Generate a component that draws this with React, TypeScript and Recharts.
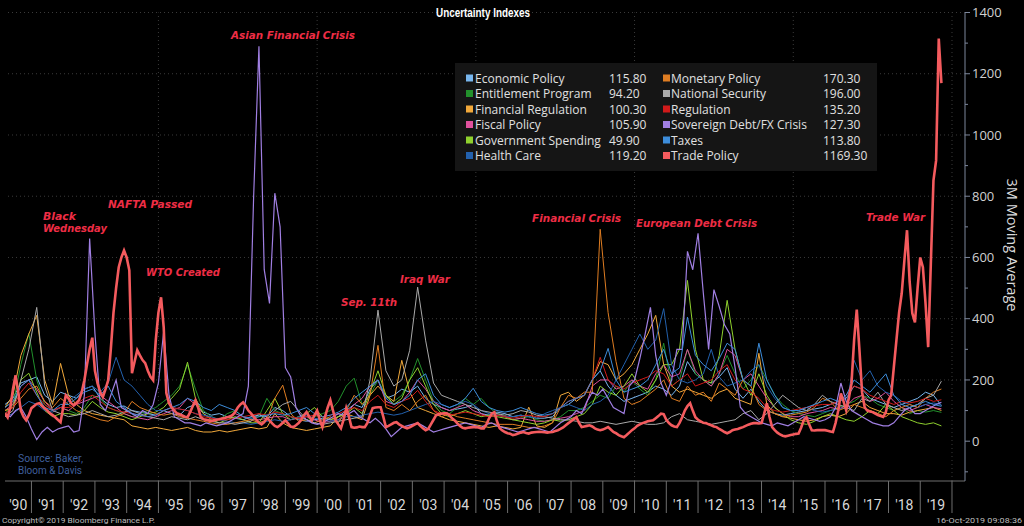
import React from 'react';
import { LineChart, Line, XAxis, YAxis, ReferenceLine } from 'recharts';

// first 3M average point is Mar 1990, last is Sep 2019
const T0 = 1990 + 2 / 12;
const X_MIN = T0;
const X_MAX = 2020.41;
const Y_MIN = -130;
const Y_MAX = 1400;

const W = 1024;
const H = 526;
const PLOT_LEFT = 5;
const PLOT_RIGHT = 965;
const PX_PER_YEAR = (PLOT_RIGHT - PLOT_LEFT) / (X_MAX - X_MIN);

const YEAR_BOUNDS = [
  1991, 1992, 1993, 1994, 1995, 1996, 1997, 1998, 1999, 2000,
  2001, 2002, 2003, 2004, 2005, 2006, 2007, 2008, 2009, 2010,
  2011, 2012, 2013, 2014, 2015, 2016, 2017, 2018, 2019, 2020,
];
const YEAR_LABELS = [
  "'90", "'91", "'92", "'93", "'94", "'95", "'96", "'97", "'98", "'99",
  "'00", "'01", "'02", "'03", "'04", "'05", "'06", "'07", "'08", "'09",
  "'10", "'11", "'12", "'13", "'14", "'15", "'16", "'17", "'18", "'19",
];
const Y_TICKS = [-100, 0, 100, 200, 300, 400, 500, 600, 700, 800, 900, 1000, 1100, 1200, 1300, 1400];
const GRID_Y = [200, 400, 600, 800, 1000, 1200, 1400];
const GRID_X = [1995, 2000, 2005, 2010, 2015, 2020];

// quarterly readings (Mar/Jun/Sep/Dec), one row per year
const ECONOMIC_POLICY = [
  120, 140, 190, 200, 210, 150, 130, 160, 150, 140, 170, 180, 140, 120, 110, 115,
  100, 95, 90, 85, 100, 90, 85, 110, 120, 95, 85, 90, 80, 75, 70, 80,
  85, 80, 110, 100, 80, 70, 65, 70, 75, 70, 80, 100, 120, 110, 170, 200,
  140, 150, 170, 160, 180, 140, 120, 110, 100, 105, 110, 120, 90, 85, 95, 90,
  80, 85, 80, 75, 75, 80, 110, 120, 140, 150, 200, 230, 180, 150, 130, 140,
  150, 160, 180, 170, 150, 180, 260, 220, 200, 190, 210, 240, 170, 140, 170, 130,
  100, 90, 85, 90, 95, 100, 105, 110, 120, 130, 140, 180, 170, 140, 130, 120,
  110, 120, 130, 140, 160, 150, 115.8,
];
const ENTITLEMENT = [
  90, 120, 250, 352, 200, 120, 100, 110, 100, 90, 110, 150, 140, 110, 100, 90,
  80, 90, 100, 110, 130, 150, 180, 250, 170, 100, 80, 70, 90, 100, 80, 70,
  80, 140, 100, 90, 80, 75, 70, 80, 90, 100, 130, 180, 206, 120, 150, 200,
  150, 130, 150, 200, 270, 200, 130, 100, 90, 110, 140, 120, 140, 110, 90, 80,
  70, 75, 80, 70, 65, 70, 80, 100, 100, 110, 130, 150, 140, 180, 160, 200,
  170, 150, 200, 320, 180, 200, 300, 220, 200, 180, 220, 280, 220, 170, 200, 250,
  200, 150, 120, 100, 90, 85, 80, 90, 100, 110, 120, 130, 150, 140, 120, 110,
  100, 110, 90, 100, 95, 100, 94.2,
];
const FINANCIAL_REGULATION = [
  110, 150, 280, 350, 411, 200, 120, 254, 150, 120, 100, 90, 85, 80, 75, 70,
  50, 45, 40, 45, 40, 35, 40, 45, 35, 30, 30, 35, 30, 35, 40, 45,
  40, 45, 90, 60, 45, 40, 35, 40, 45, 50, 80, 90, 80, 70, 150, 180,
  150, 130, 264, 160, 110, 100, 90, 80, 70, 65, 60, 55, 50, 45, 50, 45,
  40, 45, 111, 50, 45, 60, 150, 160, 130, 150, 200, 260, 250, 200, 220, 250,
  300, 350, 411, 250, 180, 160, 170, 160, 150, 140, 160, 170, 140, 130, 120, 287,
  120, 90, 80, 75, 70, 65, 70, 80, 85, 80, 90, 120, 130, 110, 100, 90,
  90, 85, 95, 100, 105, 110, 100.3,
];
const FISCAL_POLICY = [
  100, 120, 180, 200, 170, 130, 100, 110, 100, 120, 130, 140, 150, 130, 110, 90,
  80, 75, 70, 80, 90, 100, 110, 140, 120, 90, 75, 70, 80, 90, 80, 70,
  70, 75, 80, 80, 70, 75, 80, 70, 60, 65, 70, 90, 120, 140, 180, 200,
  130, 120, 130, 160, 200, 170, 130, 110, 100, 110, 120, 100, 90, 80, 85, 80,
  70, 75, 70, 65, 65, 70, 75, 80, 90, 100, 180, 200, 200, 170, 180, 200,
  180, 170, 220, 250, 210, 220, 300, 230, 200, 180, 220, 300, 280, 200, 220, 180,
  140, 110, 90, 80, 80, 90, 95, 100, 110, 105, 115, 140, 150, 130, 140, 160,
  130, 110, 100, 110, 120, 110, 105.9,
];
const GOVERNMENT_SPENDING = [
  100, 110, 200, 222, 160, 100, 80, 90, 90, 85, 100, 130, 110, 95, 90, 80,
  70, 80, 90, 95, 110, 140, 170, 258, 140, 90, 70, 60, 70, 80, 70, 60,
  60, 100, 140, 90, 70, 80, 90, 110, 80, 70, 80, 90, 110, 90, 160, 230,
  150, 120, 140, 200, 240, 180, 120, 90, 80, 90, 100, 90, 80, 85, 80, 75,
  70, 65, 60, 55, 60, 70, 65, 70, 80, 90, 120, 180, 160, 150, 180, 220,
  180, 160, 200, 250, 250, 300, 525, 300, 200, 190, 280, 460, 300, 200, 150, 220,
  150, 110, 90, 70, 60, 55, 65, 80, 90, 80, 70, 65, 80, 100, 90, 120,
  100, 80, 70, 60, 55, 60, 49.9,
];
const HEALTH_CARE = [
  80, 90, 110, 130, 120, 100, 95, 110, 130, 150, 170, 180, 160, 190, 274, 200,
  180, 150, 120, 100, 100, 110, 105, 100, 90, 85, 80, 70, 65, 60, 60, 55,
  60, 65, 70, 65, 70, 80, 85, 75, 70, 65, 70, 80, 80, 85, 90, 95,
  90, 85, 90, 100, 110, 120, 130, 120, 110, 120, 130, 120, 100, 90, 85, 80,
  80, 85, 80, 75, 90, 100, 110, 120, 110, 100, 120, 130, 150, 200, 250, 300,
  350, 300, 330, 433, 250, 200, 190, 200, 220, 300, 210, 180, 190, 200, 230, 250,
  180, 140, 110, 100, 100, 110, 100, 95, 100, 105, 110, 264, 200, 230, 180, 160,
  150, 130, 120, 110, 120, 125, 119.2,
];
const MONETARY_POLICY = [
  100, 110, 140, 170, 180, 130, 110, 140, 120, 100, 90, 80, 70, 65, 80, 90,
  130, 110, 100, 90, 85, 90, 80, 75, 70, 65, 60, 55, 55, 60, 65, 70,
  60, 70, 140, 183, 90, 65, 70, 60, 70, 80, 60, 100, 150, 120, 150, 313,
  110, 100, 120, 100, 130, 150, 100, 80, 90, 80, 75, 70, 65, 60, 55, 55,
  55, 50, 45, 45, 50, 60, 110, 150, 140, 160, 160, 692, 420, 260, 140, 120,
  130, 150, 170, 200, 140, 130, 180, 150, 160, 130, 190, 170, 150, 200, 180, 120,
  100, 90, 80, 85, 90, 95, 110, 140, 130, 100, 110, 120, 110, 100, 90, 80,
  100, 110, 120, 110, 140, 160, 170.3,
];
const NATIONAL_SECURITY = [
  80, 100, 200, 300, 437, 180, 100, 90, 80, 85, 90, 100, 90, 80, 85, 95,
  100, 90, 80, 75, 70, 80, 75, 70, 80, 70, 65, 60, 60, 55, 60, 65,
  90, 70, 100, 120, 130, 100, 70, 60, 55, 60, 65, 70, 75, 80, 200, 428,
  230, 180, 200, 297, 503, 330, 190, 150, 140, 130, 120, 110, 100, 95, 90, 85,
  90, 100, 95, 85, 80, 75, 70, 70, 65, 60, 60, 65, 60, 55, 60, 65,
  60, 55, 55, 60, 80, 90, 70, 65, 60, 55, 60, 65, 70, 90, 100, 70,
  90, 120, 150, 130, 110, 100, 120, 150, 130, 120, 110, 100, 140, 130, 160, 120,
  110, 100, 110, 120, 140, 150, 196,
];
const REGULATION = [
  90, 110, 160, 190, 150, 120, 100, 110, 110, 120, 140, 150, 130, 110, 100, 95,
  90, 85, 80, 85, 100, 110, 105, 100, 90, 80, 75, 70, 70, 75, 80, 85,
  90, 85, 95, 90, 80, 75, 80, 85, 80, 85, 90, 100, 110, 100, 130, 150,
  120, 110, 130, 140, 166, 130, 100, 90, 85, 90, 95, 90, 85, 80, 85, 80,
  75, 80, 85, 80, 80, 90, 110, 130, 140, 150, 200, 274, 200, 180, 170, 190,
  200, 210, 230, 220, 180, 200, 220, 180, 190, 200, 230, 250, 200, 170, 160, 140,
  110, 100, 95, 100, 105, 110, 115, 120, 120, 130, 150, 180, 170, 150, 140, 130,
  120, 130, 125, 130, 140, 130, 135.2,
];
const TAXES = [
  110, 130, 180, 200, 150, 110, 100, 120, 120, 140, 160, 170, 150, 180, 130, 110,
  90, 85, 80, 85, 100, 110, 120, 140, 130, 110, 100, 120, 110, 100, 80, 75,
  80, 85, 90, 85, 90, 100, 110, 90, 80, 85, 95, 110, 140, 160, 180, 200,
  140, 120, 130, 150, 200, 220, 150, 120, 110, 120, 140, 173, 130, 110, 100, 95,
  100, 110, 100, 90, 85, 90, 110, 130, 140, 150, 200, 230, 303, 200, 160, 170,
  180, 200, 250, 300, 220, 240, 405, 280, 250, 230, 270, 320, 300, 200, 180, 320,
  200, 150, 110, 100, 100, 110, 120, 130, 140, 130, 150, 200, 180, 160, 190, 220,
  150, 120, 110, 120, 130, 120, 113.8,
];

// every other month, Mar 1990 .. Sep 2019
const SOVEREIGN_DEBT = [
  90, 80, 100, 110, 80,
  40, 5, 30, 45, 30, 40,
  45, 50, 30, 35, 150, 662,
  352, 120, 100, 150, 200, 110,
  100, 90, 80, 100, 90, 120,
  190, 360, 150, 80, 70, 60,
  60, 55, 50, 60, 55, 50,
  55, 60, 70, 80, 90, 180,
  800, 1290, 560, 450, 810, 700,
  240, 210, 110, 80, 70, 60,
  55, 60, 70, 80, 90, 85,
  90, 100, 80, 70, 60, 75,
  60, 40, 15, 30, 45, 50,
  55, 60, 50, 40, 30, 35,
  40, 45, 50, 55, 60, 55,
  50, 45, 55, 60, 50, 45,
  40, 35, 30, 35, 40, 45,
  40, 35, 30, 45, 60, 70,
  80, 100, 90, 130, 160, 150,
  170, 140, 110, 100, 90, 180,
  200, 270, 350, 437, 280, 190,
  150, 200, 300, 300, 620, 560,
  679, 483, 300, 495, 440, 380,
  350, 240, 111, 90, 80, 70,
  60, 55, 50, 60, 55, 50,
  60, 70, 80, 75, 70, 65,
  70, 80, 110, 190, 130, 100,
  90, 80, 70, 60, 55, 50,
  50, 60, 80, 100, 110, 90,
  90, 100, 110, 120, 127.3,
];

// monthly, Mar 1990 .. Sep 2019
const TRADE_POLICY = [
  91, 78, 110, 170, 215, 160, 100, 80, 68, 85,
  108, 115, 122, 124, 115, 108, 100, 91, 85, 78, 70, 62,
  110, 150, 140, 124, 118, 125, 134, 160, 199, 250, 300, 338,
  230, 189, 160, 144, 170, 199, 300, 418, 500, 568, 600, 623,
  600, 558, 222, 260, 297, 280, 265, 255, 230, 210, 199, 330,
  420, 470, 372, 157, 124, 110, 100, 91, 88, 84, 80, 78,
  95, 115, 134, 110, 78, 72, 70, 68, 66, 68, 70, 72,
  74, 76, 78, 80, 85, 95, 110, 120, 127, 115, 100, 91,
  80, 70, 60, 55, 62, 75, 68, 58, 50, 46, 52, 60,
  68, 58, 48, 46, 52, 59, 70, 85, 95, 80, 68, 85,
  100, 70, 46, 80, 110, 134, 100, 68, 55, 42, 70, 108,
  80, 46, 44, 45, 48, 46, 46, 60, 85, 108, 110, 111,
  111, 80, 46, 50, 55, 60, 62, 55, 50, 45, 42, 45,
  50, 55, 59, 50, 42, 36, 40, 55, 70, 85, 88, 90,
  91, 91, 85, 75, 68, 58, 50, 44, 42, 44, 45, 46,
  46, 45, 42, 42, 55, 75, 90, 95, 65, 42, 35, 30,
  26, 24, 20, 22, 25, 28, 30, 27, 25, 28, 29, 30,
  31, 30, 29, 28, 29, 30, 33, 36, 40, 45, 52, 59,
  65, 72, 78, 60, 46, 48, 50, 52, 48, 42, 38, 36,
  38, 42, 46, 38, 30, 26, 20, 16, 13, 20, 28, 36,
  42, 50, 55, 59, 62, 65, 67, 68, 75, 82, 90, 88,
  70, 59, 52, 48, 46, 60, 78, 100, 115, 124, 100, 78,
  70, 65, 60, 59, 55, 52, 48, 46, 40, 35, 30, 26,
  30, 36, 38, 40, 43, 46, 50, 54, 57, 59, 59, 58,
  59, 90, 124, 80, 46, 36, 28, 22, 18, 16, 18, 20,
  22, 24, 25, 45, 70, 78, 55, 36, 35, 36, 36, 36,
  36, 34, 32, 30, 60, 100, 156, 130, 101, 140, 188, 330,
  430, 300, 160, 110, 100, 97, 95, 90, 85, 82, 79, 95,
  134, 150, 240, 330, 420, 483, 590, 689, 520, 418, 388, 500,
  600, 568, 450, 307, 580, 852, 917, 1315, 1169.3,
];

type Series = { name: string; color: string; values: number[]; step: number; width: number };

// legend order: first column then second
const SERIES: Series[] = [
  { name: 'Economic Policy', color: '#78b6ee', values: ECONOMIC_POLICY, step: 3, width: 1 },
  { name: 'Entitlement Program', color: '#22912c', values: ENTITLEMENT, step: 3, width: 1 },
  { name: 'Financial Regulation', color: '#f2a93b', values: FINANCIAL_REGULATION, step: 3, width: 1 },
  { name: 'Fiscal Policy', color: '#e0519d', values: FISCAL_POLICY, step: 3, width: 1 },
  { name: 'Government Spending', color: '#8fd12e', values: GOVERNMENT_SPENDING, step: 3, width: 1 },
  { name: 'Health Care', color: '#2361ad', values: HEALTH_CARE, step: 3, width: 1 },
  { name: 'Monetary Policy', color: '#df7d22', values: MONETARY_POLICY, step: 3, width: 1 },
  { name: 'National Security', color: '#a9a9a9', values: NATIONAL_SECURITY, step: 3, width: 1 },
  { name: 'Regulation', color: '#d11a1a', values: REGULATION, step: 3, width: 1 },
  { name: 'Sovereign Debt/FX Crisis', color: '#a07fe2', values: SOVEREIGN_DEBT, step: 2, width: 1.2 },
  { name: 'Taxes', color: '#3d8ddb', values: TAXES, step: 3, width: 1 },
  { name: 'Trade Policy', color: '#f45b5e', values: TRADE_POLICY, step: 1, width: 2.6 },
];

const NOTES = [
  { text: 'Black', x: 43, y: 216, w: 33 },
  { text: 'Wednesday', x: 43, y: 228, w: 64 },
  { text: 'NAFTA Passed', x: 108, y: 204, w: 84 },
  { text: 'WTO Created', x: 146, y: 272, w: 74 },
  { text: 'Asian Financial Crisis', x: 231, y: 35, w: 124 },
  { text: 'Sep. 11th', x: 341, y: 302, w: 56 },
  { text: 'Iraq War', x: 400, y: 279, w: 50 },
  { text: 'Financial Crisis', x: 532, y: 218, w: 89 },
  { text: 'European Debt Crisis', x: 636, y: 223, w: 121 },
  { text: 'Trade War', x: 866, y: 217, w: 59 },
];

function toPoints(values: number[], stepMonths: number) {
  return values.map((v, i) => ({ t: T0 + (i * stepMonths) / 12, v }));
}

function YearTick(props: any) {
  const { x, y, payload } = props;
  const idx = YEAR_BOUNDS.indexOf(payload.value);
  const left = Math.max(PLOT_LEFT, x - PX_PER_YEAR);
  return (
    <text
      x={(left + x) / 2}
      y={y - 3}
      textAnchor="middle"
      fill="#d8d8d8"
      fontSize={14}
      fontFamily="Roboto, 'Liberation Sans', sans-serif"
    >
      {YEAR_LABELS[idx]}
    </text>
  );
}

function ValueTick(props: any) {
  const { x, y, payload } = props;
  const v = payload.value;
  const major = v % 200 === 0;
  return (
    <g>
      <line x1={x} x2={x + (major ? 5 : 3)} y1={y} y2={y} stroke="#7d879c" />
      {major && v >= 0 && (
        <text x={x + 7} y={y} dy="0.36em" fill="#d0d0d0" fontSize={13} fontFamily="'Open Sans', sans-serif">
          {v}
        </text>
      )}
    </g>
  );
}

export default function App() {
  const drawOrder = [...SERIES.filter((s) => s.name !== 'Trade Policy'), SERIES[11]];
  const rowY = (r: number) => 78.5 + r * 15.5;
  const col = [
    { marker: 466, name: 475, value: 609 },
    { marker: 663, name: 671, value: 823 },
  ];

  return (
    <div style={{ position: 'relative', width: W, height: H, background: '#000', overflow: 'hidden' }}>
      <style>{'body{margin:0;background:#000}'}</style>
      <LineChart width={W} height={H} margin={{ top: 12.5, right: 0, bottom: 0, left: PLOT_LEFT }}>
        {GRID_Y.map((v) => (
          <ReferenceLine key={'gy' + v} y={v} stroke="#3a3a3a" strokeDasharray="1 3" />
        ))}
        {GRID_X.map((v) => (
          <ReferenceLine key={'gx' + v} x={v} stroke="#3a3a3a" strokeDasharray="1 3" />
        ))}
        <XAxis
          type="number"
          dataKey="t"
          domain={[X_MIN, X_MAX]}
          allowDataOverflow
          ticks={YEAR_BOUNDS}
          interval={0}
          height={45}
          tickSize={32}
          tickMargin={0}
          tickLine={{ stroke: '#6e6e6e' }}
          axisLine={{ stroke: '#6e6e6e' }}
          tick={<YearTick />}
        />
        <YAxis
          orientation="right"
          width={59}
          domain={[Y_MIN, Y_MAX]}
          allowDataOverflow
          ticks={Y_TICKS}
          interval={0}
          tickSize={0}
          tickMargin={0}
          tickLine={false}
          axisLine={{ stroke: '#7d879c' }}
          tick={<ValueTick />}
        />
        {drawOrder.map((s) => (
          <Line
            key={s.name}
            data={toPoints(s.values, s.step)}
            dataKey="v"
            type="linear"
            stroke={s.color}
            strokeWidth={s.width}
            dot={false}
            activeDot={false}
            isAnimationActive={false}
          />
        ))}
      </LineChart>

      <svg width={W} height={H} style={{ position: 'absolute', left: 0, top: 0, pointerEvents: 'none' }}>
        <text
          x={483}
          y={17}
          textAnchor="middle"
          fill="#ffffff"
          fontSize={12}
          fontWeight="bold"
          fontFamily="'Liberation Sans', Arial, sans-serif"
          textLength={94}
          lengthAdjust="spacingAndGlyphs"
        >
          Uncertainty Indexes
        </text>

        {NOTES.map((n) => (
          <text
            key={n.text}
            x={n.x}
            y={n.y}
            dy="0.35em"
            fill="#ee2d45"
            fontSize={11}
            fontWeight="bold"
            fontStyle="italic"
            fontFamily="'DejaVu Sans', sans-serif"
            textLength={n.w}
            lengthAdjust="spacingAndGlyphs"
          >
            {n.text}
          </text>
        ))}

        <rect x={455} y={63} width={422} height={108} fill="#151515" />
        {SERIES.map((s, i) => {
          const c = col[Math.floor(i / 6)];
          const y = rowY(i % 6);
          const last = s.values[s.values.length - 1];
          return (
            <g key={'lg' + s.name} fontFamily="'Open Sans', sans-serif" fontSize={12} fill="#e0e0e0">
              <rect x={c.marker} y={y - 4} width={7} height={7} fill={s.color} />
              <text x={c.name} y={y} dy="0.35em">{s.name}</text>
              <text x={c.value} y={y} dy="0.35em">{last.toFixed(2)}</text>
            </g>
          );
        })}

        <text
          x={1012}
          y={245}
          transform="rotate(90 1012 245)"
          textAnchor="middle"
          dy="0.35em"
          fill="#dcdcdc"
          fontSize={14.5}
          fontFamily="'Open Sans', sans-serif"
        >
          3M Moving Average
        </text>

        <g fill="#3f5f9c" fontSize={10} fontFamily="Roboto, sans-serif">
          <text x={18} y={458} dy="0.35em" textLength={65} lengthAdjust="spacingAndGlyphs">Source: Baker,</text>
          <text x={18} y={470} dy="0.35em" textLength={64} lengthAdjust="spacingAndGlyphs">Bloom &amp; Davis</text>
        </g>

        <g fill="#bdbdbd" fontSize={8} fontFamily="Roboto, sans-serif">
          <text x={2} y={523} textLength={153} lengthAdjust="spacingAndGlyphs">Copyright© 2019 Bloomberg Finance L.P.</text>
          <text x={1022} y={523} textAnchor="end" textLength={86} lengthAdjust="spacingAndGlyphs">16-Oct-2019 09:08:36</text>
        </g>
      </svg>
    </div>
  );
}
